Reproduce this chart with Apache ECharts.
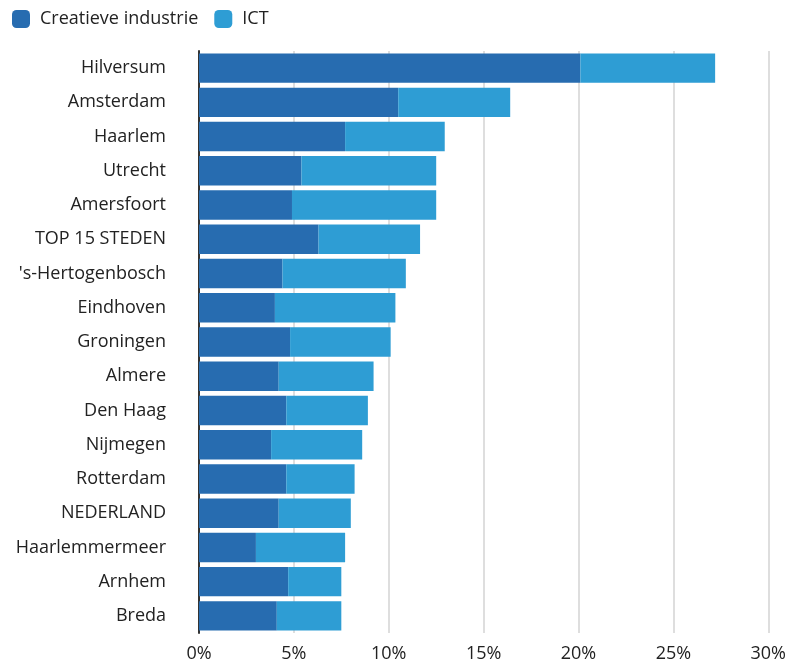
<!DOCTYPE html>
<html>
<head>
<meta charset="utf-8">
<script src="https://cdn.jsdelivr.net/npm/echarts@6/dist/echarts.min.js"></script>
<style>html,body{margin:0;padding:0;background:#fff}#c{width:789px;height:663px}</style>
</head>
<body>
<div id="c"></div>
<script>
const categories = ["Hilversum","Amsterdam","Haarlem","Utrecht","Amersfoort","TOP 15 STEDEN","'s-Hertogenbosch","Eindhoven","Groningen","Almere","Den Haag","Nijmegen","Rotterdam","NEDERLAND","Haarlemmermeer","Arnhem","Breda"];
const creatieveIndustrie = [20.1,10.5,7.7,5.4,4.9,6.3,4.4,4.0,4.8,4.2,4.6,3.8,4.6,4.2,3.0,4.7,4.1];
const ict = [7.1,5.9,5.25,7.1,7.6,5.35,6.5,6.35,5.3,5.0,4.3,4.8,3.6,3.8,4.7,2.8,3.4];
const seriesNames = ["Creatieve industrie","ICT"];
const xTicks = [0,5,10,15,20,25,30];

const chart = echarts.init(document.getElementById('c'));
const font = "'Open Sans', sans-serif";
chart.setOption({
  animation: false,
  textStyle: {fontFamily: font},
  legend: {
    left: 7, top: 5, itemWidth: 18, itemHeight: 18, itemGap: 16,
    icon: 'roundRect',
    textStyle: {fontFamily: font, fontSize: 18, color: '#222', padding: [0,0,0,5]},
    data: seriesNames
  },
  grid: {left: 199, right: 18, top: 51, bottom: 30, containLabel: false},
  xAxis: {
    type: 'value', min: xTicks[0], max: xTicks[xTicks.length-1], interval: 5,
    axisLine: {show: false}, axisTick: {show: false},
    axisLabel: {formatter: '{value}%', fontFamily: font, fontSize: 18, color: '#222', margin: 12},
    splitLine: {show: true, lineStyle: {color: '#dedede', width: 2}}
  },
  yAxis: {
    type: 'category', data: categories, inverse: true,
    axisLine: {show: true, lineStyle: {color: '#333', width: 2}},
    axisTick: {show: false},
    axisLabel: {fontFamily: font, fontSize: 18, color: '#222', margin: 33}
  },
  series: [
    {name: seriesNames[0], type: 'bar', stack: 't', data: creatieveIndustrie, itemStyle: {color: '#276cb0'}, barCategoryGap: '14%'},
    {name: seriesNames[1], type: 'bar', stack: 't', data: ict, itemStyle: {color: '#2e9dd4'}, barCategoryGap: '14%'}
  ]
});
</script>
</body>
</html>
